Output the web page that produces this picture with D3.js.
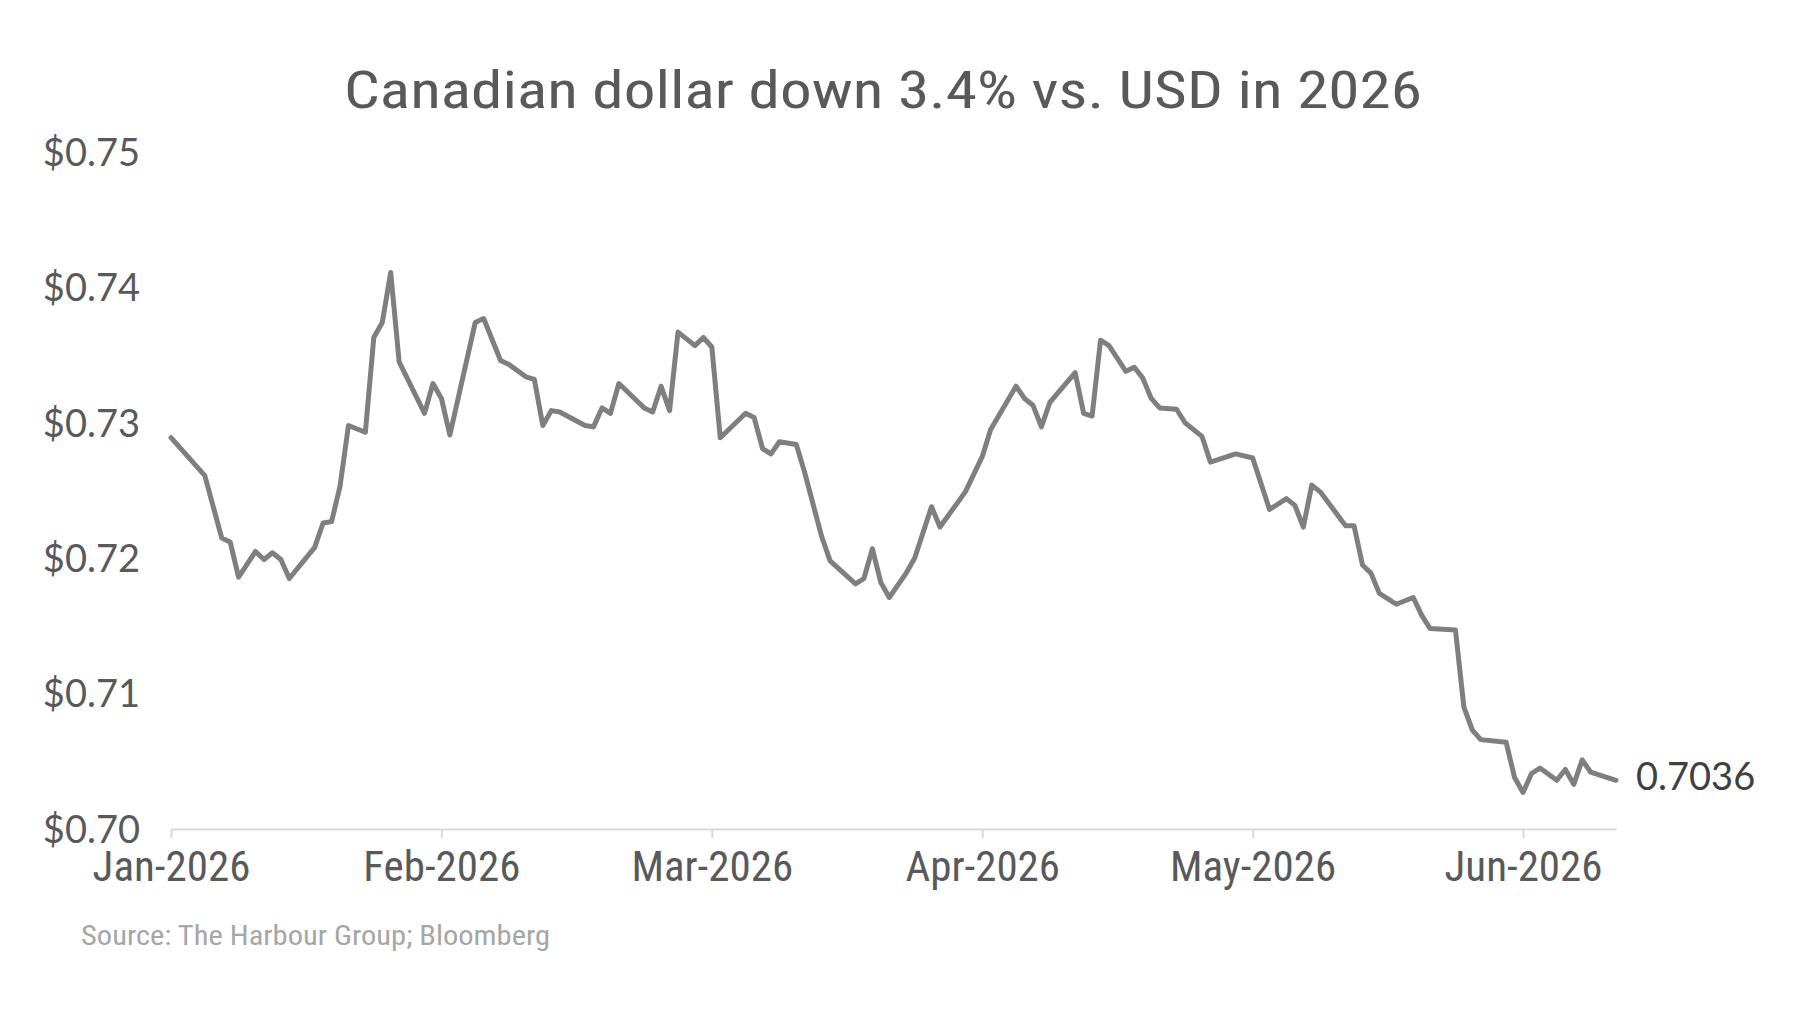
<!DOCTYPE html>
<html>
<head>
<meta charset="utf-8">
<title>Canadian dollar vs USD</title>
<script src="https://cdn.jsdelivr.net/npm/d3@7"></script>
<style>
  body { margin: 0; padding: 0; background: #ffffff; }
  svg { display: block; }
  .narrow { font-family: "Liberation Sans Narrow", "Roboto Condensed", "DejaVu Sans Condensed", sans-serif; }
  .num { font-family: Lato, "Open Sans", sans-serif; }
</style>
</head>
<body>
<svg id="chart" width="1816" height="1016"></svg>
<script>
// --- data: calendar-day offset from Jan 1 2026, CAD in USD
var days = [0, 4, 6, 7, 8, 10, 11, 12, 13, 14, 17, 18, 19, 20, 21, 23, 24, 25, 26, 27,
  30, 31, 32, 33, 36, 37, 39, 40, 42, 43, 44, 45, 46, 49, 50, 51, 52, 53, 56, 57,
  58, 59, 60, 62, 63, 64, 65, 68, 69, 70, 71, 72, 74, 75, 77, 78, 81, 82, 83, 84,
  85, 87, 88, 90, 91, 94, 96, 97, 100, 101, 102, 103, 104, 107, 108, 109, 110, 111, 113, 114,
  115, 116, 117, 119, 120, 122, 123, 126, 128, 130, 132, 133, 134, 135, 136, 139, 140, 141, 142, 143,
  145, 147, 148, 149, 152, 153, 154, 155, 158, 159, 160, 161, 162, 164, 165, 166, 167, 168, 171];

var rates = [0.7289, 0.7261, 0.7215, 0.7212, 0.7186, 0.7205, 0.7199, 0.7204, 0.7199, 0.7185, 0.7208, 0.7226, 0.7227, 0.7253, 0.7298, 0.7293, 0.7363, 0.7374, 0.7411, 0.7345,
  0.7307, 0.7329, 0.7318, 0.7291, 0.7374, 0.7377, 0.7346, 0.7343, 0.7334, 0.7332, 0.7298, 0.7309, 0.7308, 0.7298, 0.7297, 0.7311, 0.7307, 0.7329, 0.7311, 0.7308,
  0.7327, 0.7309, 0.7367, 0.7357, 0.7363, 0.7356, 0.7289, 0.7307, 0.7304, 0.7281, 0.7277, 0.7286, 0.7284, 0.7263, 0.7216, 0.7198, 0.7181, 0.7185, 0.7207, 0.7182,
  0.7171, 0.7189, 0.7200, 0.7238, 0.7223, 0.7249, 0.7275, 0.7295, 0.7327, 0.7318, 0.7313, 0.7297, 0.7315, 0.7337, 0.7307, 0.7305, 0.7361, 0.7357, 0.7338, 0.7341,
  0.7333, 0.7318, 0.7311, 0.7310, 0.7300, 0.7290, 0.7271, 0.7277, 0.7274, 0.7236, 0.7244, 0.7239, 0.7223, 0.7254, 0.7249, 0.7224, 0.7224, 0.7195, 0.7189, 0.7174,
  0.7166, 0.7171, 0.7158, 0.7148, 0.7147, 0.7090, 0.7073, 0.7066, 0.7064, 0.7038, 0.7027, 0.7041, 0.7045, 0.7036, 0.7044, 0.7033, 0.7051, 0.7042, 0.7036];

var tickDays = [0, 32, 64, 96, 128, 160];
var yTicks = [0.70, 0.71, 0.72, 0.73, 0.74, 0.75];
var startDate = new Date(2026, 0, 1);

var title = "Canadian dollar down 3.4% vs. USD in 2026";
var source = "Source: The Harbour Group; Bloomberg";

var data = days.map(function (d, i) { return { day: d, rate: rates[i] }; });

//--- Scales
var svg = d3.select("#chart");
var x = d3.scaleLinear().domain([0, d3.max(days)]).range([171, 1616]);
var y = d3.scaleLinear().domain([0.70, 0.75]).range([829, 152]);

//--- Title
svg.append("text")
  .classed("narrow", true)
  .attr("x", 883).attr("y", 108)
  .attr("text-anchor", "middle")
  .attr("font-size", 52)
  .attr("fill", "#595959")
  .attr("textLength", 1078)
  .attr("lengthAdjust", "spacingAndGlyphs")
  .text(title);

//--- Y axis labels only
var yAxis = svg.append("g")
  .attr("transform", "translate(140,0)")
  .call(d3.axisLeft(y).tickValues(yTicks).tickSize(0).tickPadding(0).tickFormat(d3.format("$.2f")));
yAxis.select(".domain").remove();
yAxis.selectAll("text")
  .classed("num", true)
  .attr("font-size", 38)
  .attr("fill", "#595959")
  .attr("dy", "0.35em");

//--- X axis
var fmt = d3.timeFormat("%b-%Y");
var xAxis = svg.append("g")
  .attr("transform", "translate(0," + y(0.70) + ")")
  .call(d3.axisBottom(x).tickValues(tickDays).tickSize(9).tickSizeOuter(0)
    .tickFormat(function (d) { return fmt(d3.timeDay.offset(startDate, d)); }));
xAxis.select(".domain").attr("stroke", "#d9d9d9").attr("stroke-width", 2);
xAxis.selectAll(".tick line").attr("stroke", "#d9d9d9").attr("stroke-width", 2);
xAxis.selectAll("text")
  .classed("narrow", true)
  .attr("font-size", 43)
  .attr("fill", "#595959")
  .attr("y", 37)
  .attr("dy", "0.35em");
xAxis.attr("font-family", null).attr("font-size", null);
yAxis.attr("font-family", null).attr("font-size", null);

//--- Line
var line = d3.line().x(function (d) { return x(d.day); }).y(function (d) { return y(d.rate); });
svg.append("path")
  .datum(data)
  .attr("d", line)
  .attr("fill", "none")
  .attr("stroke", "#7f7f7f")
  .attr("stroke-width", 5)
  .attr("stroke-linejoin", "round")
  .attr("stroke-linecap", "round");

//--- End value label
var last = data[data.length - 1];
svg.append("text")
  .classed("num", true)
  .attr("x", x(last.day) + 20)
  .attr("y", y(last.rate) - 4)
  .attr("dy", "0.35em")
  .attr("font-size", 38)
  .attr("fill", "#404040")
  .text(d3.format(".4f")(last.rate));

//--- Source
svg.append("text")
  .classed("narrow", true)
  .attr("x", 81).attr("y", 945)
  .attr("font-size", 27)
  .attr("fill", "#a6a6a6")
  .attr("textLength", 469)
  .attr("lengthAdjust", "spacingAndGlyphs")
  .text(source);
</script>
</body>
</html>
